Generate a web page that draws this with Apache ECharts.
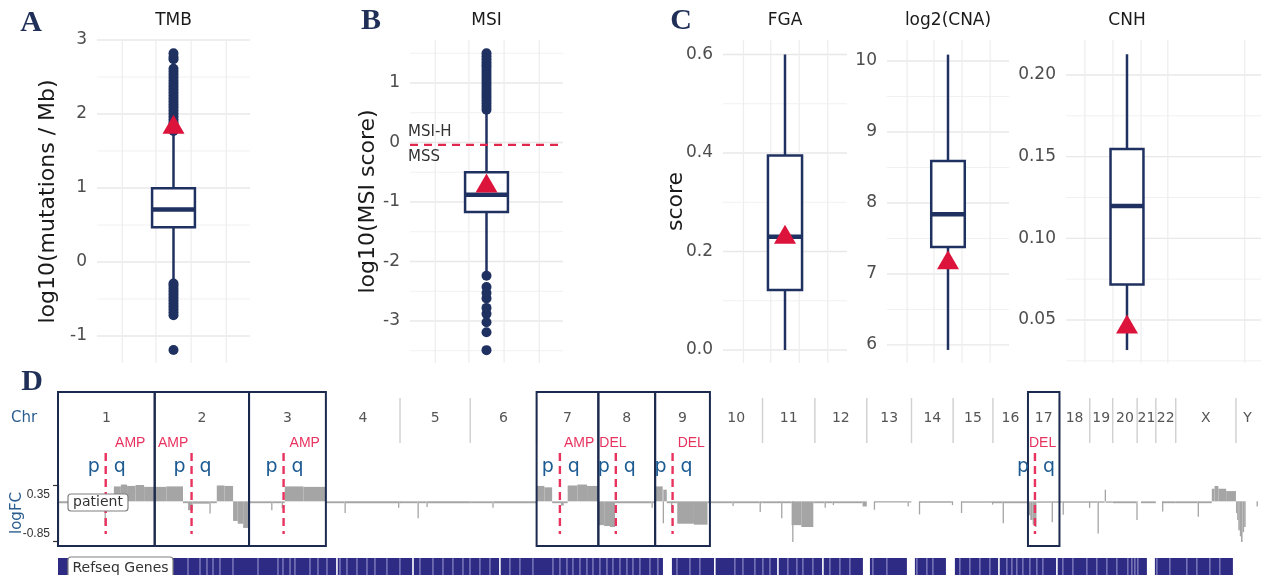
<!DOCTYPE html>
<html>
<head>
<meta charset="utf-8">
<script src="https://cdn.jsdelivr.net/npm/echarts@6.0.0/dist/echarts.min.js"></script>
<style>
html,body{margin:0;padding:0;background:#ffffff;}
#chart{width:1261px;height:575px;}
</style>
</head>
<body>
<div id="chart"></div>
<script>
// ================= DATA =================
const panelTitles = ['TMB', 'MSI', 'FGA', 'log2(CNA)', 'CNH'];
const yAxisNames = ['log10(mutations / Mb)', 'log10(MSI score)', 'score', '', ''];

// box statistics: [lower whisker, Q1, median, Q3, upper whisker]
const tmbStats = [-0.24, 0.47, 0.71, 0.995, 1.75];
const msiStats = [-2.17, -1.17, -0.88, -0.50, 0.50];
const fgaStats = [0.0, 0.122, 0.23, 0.395, 0.60];
const cnaStats = [5.93, 7.38, 7.84, 8.59, 10.09];
const cnhStats = [0.0316, 0.0718, 0.1198, 0.1547, 0.2127];

const tmbOutliers = [-1.19, -0.72, -0.68, -0.64, -0.60, -0.56, -0.52, -0.48, -0.44, -0.40, -0.36, -0.32, -0.29,
  1.77, 1.81, 1.85, 1.89, 1.93, 1.97, 2.01, 2.05, 2.09, 2.13, 2.17, 2.21, 2.25, 2.29, 2.33, 2.37, 2.41, 2.45,
  2.49, 2.53, 2.57, 2.61, 2.74, 2.77, 2.82];
const msiOutliers = [-3.49, -3.19, -3.02, -2.88, -2.78, -2.62, -2.53, -2.43, -2.24,
  0.55, 0.60, 0.65, 0.70, 0.75, 0.80, 0.85, 0.90, 0.95, 1.00, 1.05, 1.10, 1.15, 1.20, 1.25, 1.30, 1.35, 1.40, 1.45, 1.50];
const fgaOutliers = [];
const cnaOutliers = [];
const cnhOutliers = [];

// patient values (red triangles): TMB, MSI, FGA, log2(CNA), CNH
const patientValues = [1.86, -0.68, 0.235, 7.20, 0.0475];
const msiThreshold = -0.04;

// tick labels (major) and minor grid values
const tmbTicks = [-1, 0, 1, 2, 3];
const msiTicks = [-3, -2, -1, 0, 1];
const fgaTicks = [0.0, 0.2, 0.4, 0.6];
const cnaTicks = [6, 7, 8, 9, 10];
const cnhTicks = [0.05, 0.10, 0.15, 0.20];
const tmbMinor = [-0.5, 0.5, 1.5, 2.5];
const msiMinor = [-3.5, -2.5, -1.5, -0.5, 0.5, 1.5];
const fgaMinor = [0.1, 0.3, 0.5];
const cnaMinor = [6.5, 7.5, 8.5, 9.5];
const cnhMinor = [0.025, 0.075, 0.125, 0.175];

// genome (hg19) chromosomes
const chromNames = ['1','2','3','4','5','6','7','8','9','10','11','12','13','14','15','16','17','18','19','20','21','22','X','Y'];
const chromLengthsMb = [249.25, 243.20, 198.02, 191.15, 180.92, 171.12, 159.14, 146.36, 141.21, 135.53, 135.01, 133.85,
  115.17, 107.35, 102.53, 90.35, 81.20, 78.08, 59.13, 63.03, 48.13, 51.30, 155.27, 59.37];

// highlighted CNV events
const eventChroms = ['1', '2', '3', '7', '8', '9', '17'];
const eventTypes = ['AMP', 'AMP', 'AMP', 'AMP', 'DEL', 'DEL', 'DEL'];
const eventArms = ['q', 'p', 'q', 'q', 'p', 'q', 'p'];
const eventCentromereMb = [123, 95, 89, 60, 45, 45, 18];

// copy-number segments: [chrom, startMb, endMb, logFC]
const cnvSegments = [
  ['1',0,120,-0.04],['1',120,122.5,-0.52],['1',122.5,144,-0.04],['1',144,162,0.32],['1',162,178,0.36],['1',178,200,0.33],['1',200,222,0.35],['1',222,249.2,0.31],
  ['2',0,30,0.31],['2',30,73,0.32],['2',73,86,-0.04],['2',86,98,-0.19],['2',98,141,-0.05],['2',141,143.5,-0.26],['2',143.5,160,-0.04],['2',160,180,0.34],['2',180,202,0.33],['2',202,214,-0.42],['2',214,228,-0.48],['2',228,243.2,-0.57],
  ['3',0,57,-0.04],['3',57,60,-0.19],['3',60,84,-0.04],['3',84,87,-0.15],['3',87,92,-0.04],['3',92,140,0.32],['3',140,198,0.31],
  ['4',0,48,-0.04],['4',48,50.5,-0.25],['4',50.5,186,-0.04],['4',186,189,-0.14],['4',189,191.1,-0.04],
  ['5',0,45,-0.04],['5',45,47.5,-0.36],['5',47.5,68,-0.04],['5',68,70.5,-0.12],['5',70.5,180.9,-0.04],
  ['6',0,57,-0.04],['6',57,60,-0.14],['6',60,171.1,-0.04],
  ['7',0,20,0.33],['7',20,40,0.30],['7',40,63,-0.04],['7',63,70,-0.09],['7',70,80,-0.04],['7',80,105,0.34],['7',105,130,0.36],['7',130,159.1,0.33],
  ['8',0,15,-0.51],['8',15,30,-0.53],['8',30,43,-0.55],['8',43,137,-0.04],['8',137,139.5,-0.14],['8',139.5,146.4,-0.04],
  ['9',0,19.5,0.32],['9',19.5,21,-0.47],['9',21,30,0.25],['9',30,41,-0.04],['9',41,43.5,-0.23],['9',43.5,57,-0.04],['9',57,100,-0.48],['9',100,135,-0.50],['9',135,141.2,-0.04],
  ['10',0,58,-0.04],['10',58,60.5,-0.10],['10',60.5,128,-0.04],['10',128,130.5,-0.23],['10',130.5,135.5,-0.04],
  ['11',0,48,-0.04],['11',48,50.5,-0.36],['11',50.5,75,-0.04],['11',75,100,-0.51],['11',76.5,78.5,-0.87],['11',100,131,-0.55],['11',131,135,-0.04],
  ['12',0,25,-0.04],['12',25,27.5,-0.14],['12',27.5,46,-0.04],['12',46,48.5,-0.08],['12',48.5,123,-0.04],['12',123,133.8,-0.11],
  ['13',18,20,-0.18],['13',20,105,-0.02],['13',105,107.5,-0.11],['13',107.5,115.1,-0.02],
  ['14',19,21,-0.28],['14',21,104,-0.03],['14',104,107.3,-0.08],
  ['15',20,22,-0.25],['15',22,100,-0.03],['15',100,102.5,-0.07],
  ['16',0,25,-0.04],['16',25,28,-0.47],['16',28,90.3,-0.04],
  ['17',0,6,-0.30],['17',6,12,-0.40],['17',12,18,-0.50],['17',18,22,-0.55],['17',22,61,-0.03],['17',61,63.5,-0.45],['17',63.5,81.2,-0.03],
  ['18',0,8,-0.03],['18',8,10,-0.29],['18',10,76,-0.03],['18',76,78,-0.14],
  ['19',0,20,-0.03],['19',20,22,-0.69],['19',22,38.5,-0.03],['19',38.5,40.5,0.25],['19',40.5,59.1,-0.03],
  ['20',0,61,-0.04],['20',61,63,-0.40],
  ['21',10,48.1,-0.04],
  ['22',16,17.5,-0.22],['22',17.5,51.3,-0.04],
  ['X',0,56.5,-0.04],['X',56.5,59,-0.33],['X',59,93,-0.04],['X',93,100,0.27],['X',100,110,0.33],['X',110,130,0.27],['X',130,155.2,0.22],
  ['Y',0,3,-0.25],['Y',3,6,-0.40],['Y',6,10,-0.62],['Y',10,13,-0.75],['Y',13,17,-0.87],['Y',17,21,-0.66],['Y',21,25,-0.55],['Y',53,55,-0.11]
];
const logFCTicks = [-0.85, 0.35];

// RefSeq gene track (genome Mb)
const refseqLightMb = [335.1,366.0,384.0,399.5,417.5,451.0,515.5,567.0,579.9,598.0,610.8,649.5,670.1,693.3,726.8,744.8,770.6,796.4,817.0,847.9,
  881.4,933.0,966.5,992.3,1018.0,1043.8,1061.9,1087.6,1113.4,1164.9,1190.7,1224.2,1275.8,1293.8,1311.9,1327.3,1345.4,1363.4,1378.9,1396.9,
  1415.0,1430.4,1448.5,1466.5,1482.0,1500.0,1525.8,1546.4,1595.4,1628.9,1654.6,1744.8,1765.5,1796.4,1817.0,1835.1,1881.4,1904.6,1920.1,1945.9,
  1989.7,2015.5,2041.2,2100.5,2136.6,2213.9,2239.7,2255.2,2324.7,2350.5,2376.3,2402.1,2445.9,2458.8,2471.6,2487.1,2505.2,2523.2,2538.7,2590.2,
  2616.0,2652.1,2677.8,2703.6,2729.4,2757.7,2768.0,2775.8,2783.5,2832.5,2866.0,2909.8,2935.6,2969.1,2994.8];
const refseqWhiteMb = [719, 915, 1139, 1693, 1855.7, 1971.6, 2425.3, 2574.7];
const refseqGapsMb = [[1559.3,1574.7],[2074.7,2085.1],[2188.1,2201.0],[2288.7,2304.1],[2806.7,2819.6],[3028.4,3061.9],[3067,3095.6]];

// ================= BUILD =================
const chromStartMb = [];
let accMb = 0;
chromLengthsMb.forEach(l => { chromStartMb.push(accMb); accMb += l; });
const genomeMb = accMb;
const chromIdx = n => chromNames.indexOf(n);

const NAVY = '#1f3160';
const RED = '#dc143c';
const FONT = '"DejaVu Sans", sans-serif';
const SANS = '"Liberation Sans", Arial, sans-serif';

const panels = [
  {stats: tmbStats, out: tmbOutliers, ticks: tmbTicks, minor: tmbMinor, dec: 0, left: 97, width: 153, ymin: -1.365, ymax: 3.0, xmin: -1, xmax: 1, vlines: [-0.67, -0.23, 0.23, 0.69], halfW: 0.28, nameGap: 38},
  {stats: msiStats, out: msiOutliers, ticks: msiTicks, minor: msiMinor, dec: 0, left: 410, width: 153, ymin: -3.706, ymax: 1.7227, xmin: -1, xmax: 1, vlines: [-0.67, -0.23, 0.23, 0.69], halfW: 0.28, nameGap: 31},
  {stats: fgaStats, out: fgaOutliers, ticks: fgaTicks, minor: fgaMinor, dec: 1, left: 723, width: 124, ymin: -0.0264, ymax: 0.6294, xmin: -1, xmax: 1, vlines: [-0.67, -0.23, 0.23, 0.69], halfW: 0.275, nameGap: 36},
  {stats: cnaStats, out: cnaOutliers, ticks: cnaTicks, minor: cnaMinor, dec: 0, left: 887, width: 122, ymin: 5.746, ymax: 10.296, xmin: -1, xmax: 1, vlines: [-0.67, -0.23, 0.23, 0.69], halfW: 0.275, nameGap: 30},
  {stats: cnhStats, out: cnhOutliers, ticks: cnhTicks, minor: cnhMinor, dec: 2, left: 1066, width: 195, ymin: 0.02367, ymax: 0.22143, xmin: -1, xmax: 2.197, vlines: [-0.69, -0.23, 0.23, 0.67, 1.93], halfW: 0.27, nameGap: 30}
];
const PTOP = 40, PH = 323;

function boxRender(p) {
  return function (params, api) {
    const cs = params.coordSys;
    const ch = [];
    const xa = cs.x, xb = cs.x + cs.width, ya = cs.y, yb = cs.y + cs.height;
    p.minor.forEach(v => { const y = api.coord([0, v])[1]; if (y >= ya - 1 && y <= yb + 1) ch.push({type: 'line', shape: {x1: xa, y1: y, x2: xb, y2: y}, style: {stroke: '#f1f1f1', lineWidth: 1}}); });
    p.ticks.forEach(v => { const y = api.coord([0, v])[1]; ch.push({type: 'line', shape: {x1: xa, y1: y, x2: xb, y2: y}, style: {stroke: '#e8e8e8', lineWidth: 1.3}}); });
    p.vlines.forEach(v => { const x = api.coord([v, 0])[0]; ch.push({type: 'line', shape: {x1: x, y1: ya, x2: x, y2: yb}, style: {stroke: '#ededed', lineWidth: 1.2}}); });
    const s = p.stats;
    const c = v => api.coord([0, v]);
    const lo = c(s[0]), q1 = c(s[1]), md = c(s[2]), q3 = c(s[3]), hi = c(s[4]);
    const L = api.coord([-p.halfW, 0])[0], R = api.coord([p.halfW, 0])[0];
    ch.push({type: 'line', shape: {x1: lo[0], y1: lo[1], x2: q1[0], y2: q1[1]}, style: {stroke: NAVY, lineWidth: 2.5}});
    ch.push({type: 'line', shape: {x1: q3[0], y1: q3[1], x2: hi[0], y2: hi[1]}, style: {stroke: NAVY, lineWidth: 2.5}});
    ch.push({type: 'rect', shape: {x: L, y: q3[1], width: R - L, height: q1[1] - q3[1]}, style: {fill: '#ffffff', stroke: NAVY, lineWidth: 2.5}});
    ch.push({type: 'line', shape: {x1: L, y1: md[1], x2: R, y2: md[1]}, style: {stroke: NAVY, lineWidth: 4.5}});
    return {type: 'group', children: ch};
  };
}

const grids = [], xAxes = [], yAxes = [], series = [];
panels.forEach((p, i) => {
  grids.push({left: p.left, top: PTOP, width: p.width, height: PH, containLabel: false, outerBoundsMode: 'none'});
  xAxes.push({gridIndex: i, type: 'value', min: p.xmin, max: p.xmax, show: false});
  yAxes.push({
    gridIndex: i, type: 'value', min: p.ymin, max: p.ymax,
    axisLine: {show: false}, axisTick: {show: false}, splitLine: {show: false},
    axisLabel: {customValues: p.ticks, formatter: v => Number(v).toFixed(p.dec), color: '#4d4d4d', fontSize: 17, fontFamily: FONT, margin: 10},
    name: yAxisNames[i], nameLocation: 'middle', nameGap: p.nameGap, nameMoveOverlap: false,
    nameTextStyle: {fontSize: 22, color: '#1a1a1a', fontFamily: FONT}
  });
  series.push({type: 'custom', xAxisIndex: i, yAxisIndex: i, data: [[0, p.stats[2]]], renderItem: boxRender(p), z: 2, silent: true});
  series.push({type: 'scatter', xAxisIndex: i, yAxisIndex: i, data: p.out.map(v => [0, v]), symbolSize: 10, itemStyle: {color: NAVY, opacity: 1}, z: 3, silent: true});
  series.push({type: 'scatter', xAxisIndex: i, yAxisIndex: i, data: [[0, patientValues[i]]], symbol: 'triangle', symbolSize: [22, 19], itemStyle: {color: RED, opacity: 1}, z: 4, silent: true});
});

// MSI threshold
series.push({
  type: 'custom', xAxisIndex: 1, yAxisIndex: 1, data: [[0, msiThreshold]], z: 3, silent: true,
  renderItem: (params, api) => {
    const cs = params.coordSys;
    const y = api.coord([0, api.value(1)])[1];
    return {type: 'group', children: [
      {type: 'line', shape: {x1: cs.x, y1: y, x2: cs.x + cs.width, y2: y}, style: {stroke: '#e0284f', lineWidth: 2.2, lineDash: [8, 6]}},
      {type: 'text', x: cs.x - 2, y: y - 13, style: {text: 'MSI-H', fill: '#333', font: '15px ' + FONT, align: 'left', textAlign: 'left', verticalAlign: 'middle', textVerticalAlign: 'middle'}},
      {type: 'text', x: cs.x - 2, y: y + 12, style: {text: 'MSS', fill: '#333', font: '15px ' + FONT, align: 'left', textAlign: 'left', verticalAlign: 'middle', textVerticalAlign: 'middle'}}
    ]};
  }
});

// ---------- Panel D ----------
const DL = 58, DW = 1201;
// grid 5: logFC track
grids.push({left: DL, width: DW, top: 485, height: 56, containLabel: false, outerBoundsMode: 'none'});
xAxes.push({gridIndex: 5, type: 'value', min: 0, max: genomeMb, show: false});
yAxes.push({
  gridIndex: 5, type: 'value', min: -0.85, max: 0.35, offset: 4,
  axisLine: {show: true, lineStyle: {color: '#333', width: 1.2}},
  axisTick: {show: true, customValues: logFCTicks, length: 5, lineStyle: {color: '#333', width: 1.2}},
  splitLine: {show: false},
  axisLabel: {customValues: logFCTicks, formatter: v => Number(v).toFixed(2), color: '#333', fontSize: 12, fontFamily: SANS, margin: 4,
    lineHeight: 14, padding: [3, 0, 0, 0], verticalAlignMinLabel: 'bottom', verticalAlignMaxLabel: 'top'},
  name: 'logFC', nameLocation: 'middle', nameGap: 29, nameMoveOverlap: false,
  nameTextStyle: {fontSize: 15, color: '#2a5d8f', fontFamily: FONT}
});
// grid 6: annotation layer
grids.push({left: DL, width: DW, top: 390, height: 185, containLabel: false, outerBoundsMode: 'none'});
xAxes.push({gridIndex: 6, type: 'value', min: 0, max: genomeMb, show: false});
yAxes.push({gridIndex: 6, type: 'value', min: 0, max: 185, inverse: true, show: false});

// CNV segments
series.push({
  type: 'custom', xAxisIndex: 5, yAxisIndex: 5, z: 2, silent: true,
  data: cnvSegments.map(s => { const o = chromStartMb[chromIdx(s[0])]; return [o + s[1], o + s[2], s[3]]; }),
  encode: {x: [0, 1], y: 2},
  renderItem: (params, api) => {
    const a = api.coord([api.value(0), 0]);
    const b = api.coord([api.value(1), api.value(2)]);
    const w = Math.max(b[0] - a[0], 1.3);
    const h = Math.max(Math.abs(b[1] - a[1]), 1.2);
    return {type: 'rect', shape: {x: a[0], y: Math.min(a[1], b[1]), width: w, height: h}, style: {fill: '#a5a5a5'}};
  }
});

// chromosome separators
series.push({
  type: 'custom', xAxisIndex: 6, yAxisIndex: 6, z: 3, silent: true,
  data: chromStartMb.slice(1).map(v => [v, 8]),
  renderItem: (params, api) => {
    const a = api.coord([api.value(0), 8]), b = api.coord([api.value(0), 53]);
    return {type: 'line', shape: {x1: a[0], y1: a[1], x2: b[0], y2: b[1]}, style: {stroke: '#d2d2d2', lineWidth: 1.5}};
  }
});
// chromosome labels
series.push({
  type: 'custom', xAxisIndex: 6, yAxisIndex: 6, z: 3, silent: true,
  data: chromNames.map((n, i) => [chromStartMb[i] + chromLengthsMb[i] / 2, 28, i]),
  renderItem: (params, api) => {
    const p = api.coord([api.value(0), api.value(1)]);
    return {type: 'text', x: p[0], y: p[1], style: {text: chromNames[api.value(2)], fill: '#555', font: '14px ' + FONT, align: 'center', textAlign: 'center', verticalAlign: 'middle', textVerticalAlign: 'middle'}};
  }
});

// text measurement helper
const mctx = document.createElement('canvas').getContext('2d');
function textW(t, f) { mctx.font = f; return mctx.measureText(t).width; }

// event rectangles, centromere lines, labels
series.push({
  type: 'custom', xAxisIndex: 6, yAxisIndex: 6, z: 4, silent: true,
  data: eventChroms.map((c, i) => [chromStartMb[chromIdx(c)], 0, i]),
  renderItem: (params, api) => {
    const i = api.value(2);
    const ci = chromIdx(eventChroms[i]);
    const st = chromStartMb[ci], len = chromLengthsMb[ci];
    const cen = eventCentromereMb[i];
    const x0 = api.coord([st, 2]), x1 = api.coord([st + len, 156]);
    const cx = api.coord([st + cen, 63]), cb = api.coord([st + cen, 144]);
    const ch = [];
    ch.push({type: 'rect', shape: {x: x0[0], y: x0[1], width: x1[0] - x0[0], height: x1[1] - x0[1]}, style: {fill: 'none', stroke: '#1b2a4e', lineWidth: 2}});
    ch.push({type: 'line', shape: {x1: cx[0], y1: cx[1], x2: cb[0], y2: cb[1]}, style: {stroke: '#e8335f', lineWidth: 2.4, lineDash: [8, 5]}});
    // event label at the affected arm, kept within the chromosome box
    const armMid = eventArms[i] === 'p' ? cen / 2 : (cen + len) / 2;
    const lf = '14px ' + SANS;
    const tw = textW(eventTypes[i], lf);
    let lx = api.coord([st + armMid, 53])[0];
    lx = Math.max(x0[0] + tw / 2 + 1, Math.min(x1[0] - tw / 2 - 1, lx));
    const ly = api.coord([0, 53])[1];
    ch.push({type: 'text', x: lx, y: ly, style: {text: eventTypes[i], fill: '#e8335f', font: lf, align: 'center', textAlign: 'center', verticalAlign: 'middle', textVerticalAlign: 'middle'}});
    const py = api.coord([0, 77])[1];
    ch.push({type: 'text', x: cx[0] - 12, y: py, style: {text: 'p', fill: '#1c5a92', font: '19px ' + FONT, align: 'center', textAlign: 'center', verticalAlign: 'middle', textVerticalAlign: 'middle'}});
    ch.push({type: 'text', x: cx[0] + 14, y: py, style: {text: 'q', fill: '#1c5a92', font: '19px ' + FONT, align: 'center', textAlign: 'center', verticalAlign: 'middle', textVerticalAlign: 'middle'}});
    return {type: 'group', children: ch};
  }
});

// RefSeq genes track
series.push({
  type: 'custom', xAxisIndex: 6, yAxisIndex: 6, z: 3, silent: true,
  data: [[0, 168]],
  renderItem: (params, api) => {
    const a = api.coord([0, 168]), b = api.coord([genomeMb, 195]);
    const ch = [{type: 'rect', shape: {x: a[0], y: a[1], width: b[0] - a[0] + 2, height: b[1] - a[1]}, style: {fill: '#2e2b84'}}];
    refseqLightMb.forEach(v => { const x = api.coord([v, 0])[0]; ch.push({type: 'line', shape: {x1: x, y1: a[1], x2: x, y2: b[1]}, style: {stroke: '#a19ed3', lineWidth: 1}}); });
    refseqWhiteMb.forEach(v => { const x = api.coord([v, 0])[0]; ch.push({type: 'line', shape: {x1: x, y1: a[1], x2: x, y2: b[1]}, style: {stroke: '#ffffff', lineWidth: 1.6}}); });
    refseqGapsMb.forEach(g => { const g0 = api.coord([g[0], 0])[0], g1 = api.coord([g[1], 0])[0]; ch.push({type: 'rect', shape: {x: g0, y: a[1], width: g1 - g0 + 3, height: b[1] - a[1]}, style: {fill: '#ffffff'}}); });
    return {type: 'group', children: ch};
  }
});

// ---------- static texts ----------
const txt = (x, y, text, font, fill, align) => ({type: 'text', x, y, z: 100,
  style: {text, font, fill, align: align || 'center', textAlign: align || 'center', verticalAlign: 'middle', textVerticalAlign: 'middle'}});
const centers = panels.map(p => p.left + p.width * (0 - p.xmin) / (p.xmax - p.xmin));
const graphics = [
  txt(31, 23, 'A', 'bold 30px "Liberation Serif", serif', '#1f2f57'),
  txt(371, 21, 'B', 'bold 30px "Liberation Serif", serif', '#1f2f57'),
  txt(681, 21, 'C', 'bold 30px "Liberation Serif", serif', '#1f2f57'),
  txt(32, 382, 'D', 'bold 30px "Liberation Serif", serif', '#1f2f57'),
  txt(24, 418, 'Chr', '15px ' + FONT, '#2a5d8f'),
  {type: 'rect', z: 100, shape: {x: 68, y: 494, width: 60, height: 17, r: 3}, style: {fill: '#ffffff', stroke: '#808080', lineWidth: 1.2}},
  txt(98, 502.5, 'patient', '14px ' + FONT, '#333'),
  {type: 'rect', z: 100, shape: {x: 68, y: 557, width: 105, height: 21, r: 3}, style: {fill: '#ffffff', stroke: '#808080', lineWidth: 1.2}},
  txt(120.5, 568, 'Refseq Genes', '14px ' + FONT, '#333')
];
panelTitles.forEach((t, i) => graphics.push(txt(centers[i], 21, t, '17px ' + FONT, '#1a1a1a')));

const chart = echarts.init(document.getElementById('chart'), null, {renderer: 'canvas'});
chart.setOption({
  animation: false,
  backgroundColor: '#ffffff',
  grid: grids,
  xAxis: xAxes,
  yAxis: yAxes,
  series: series,
  graphic: graphics
});
</script>
</body>
</html>
